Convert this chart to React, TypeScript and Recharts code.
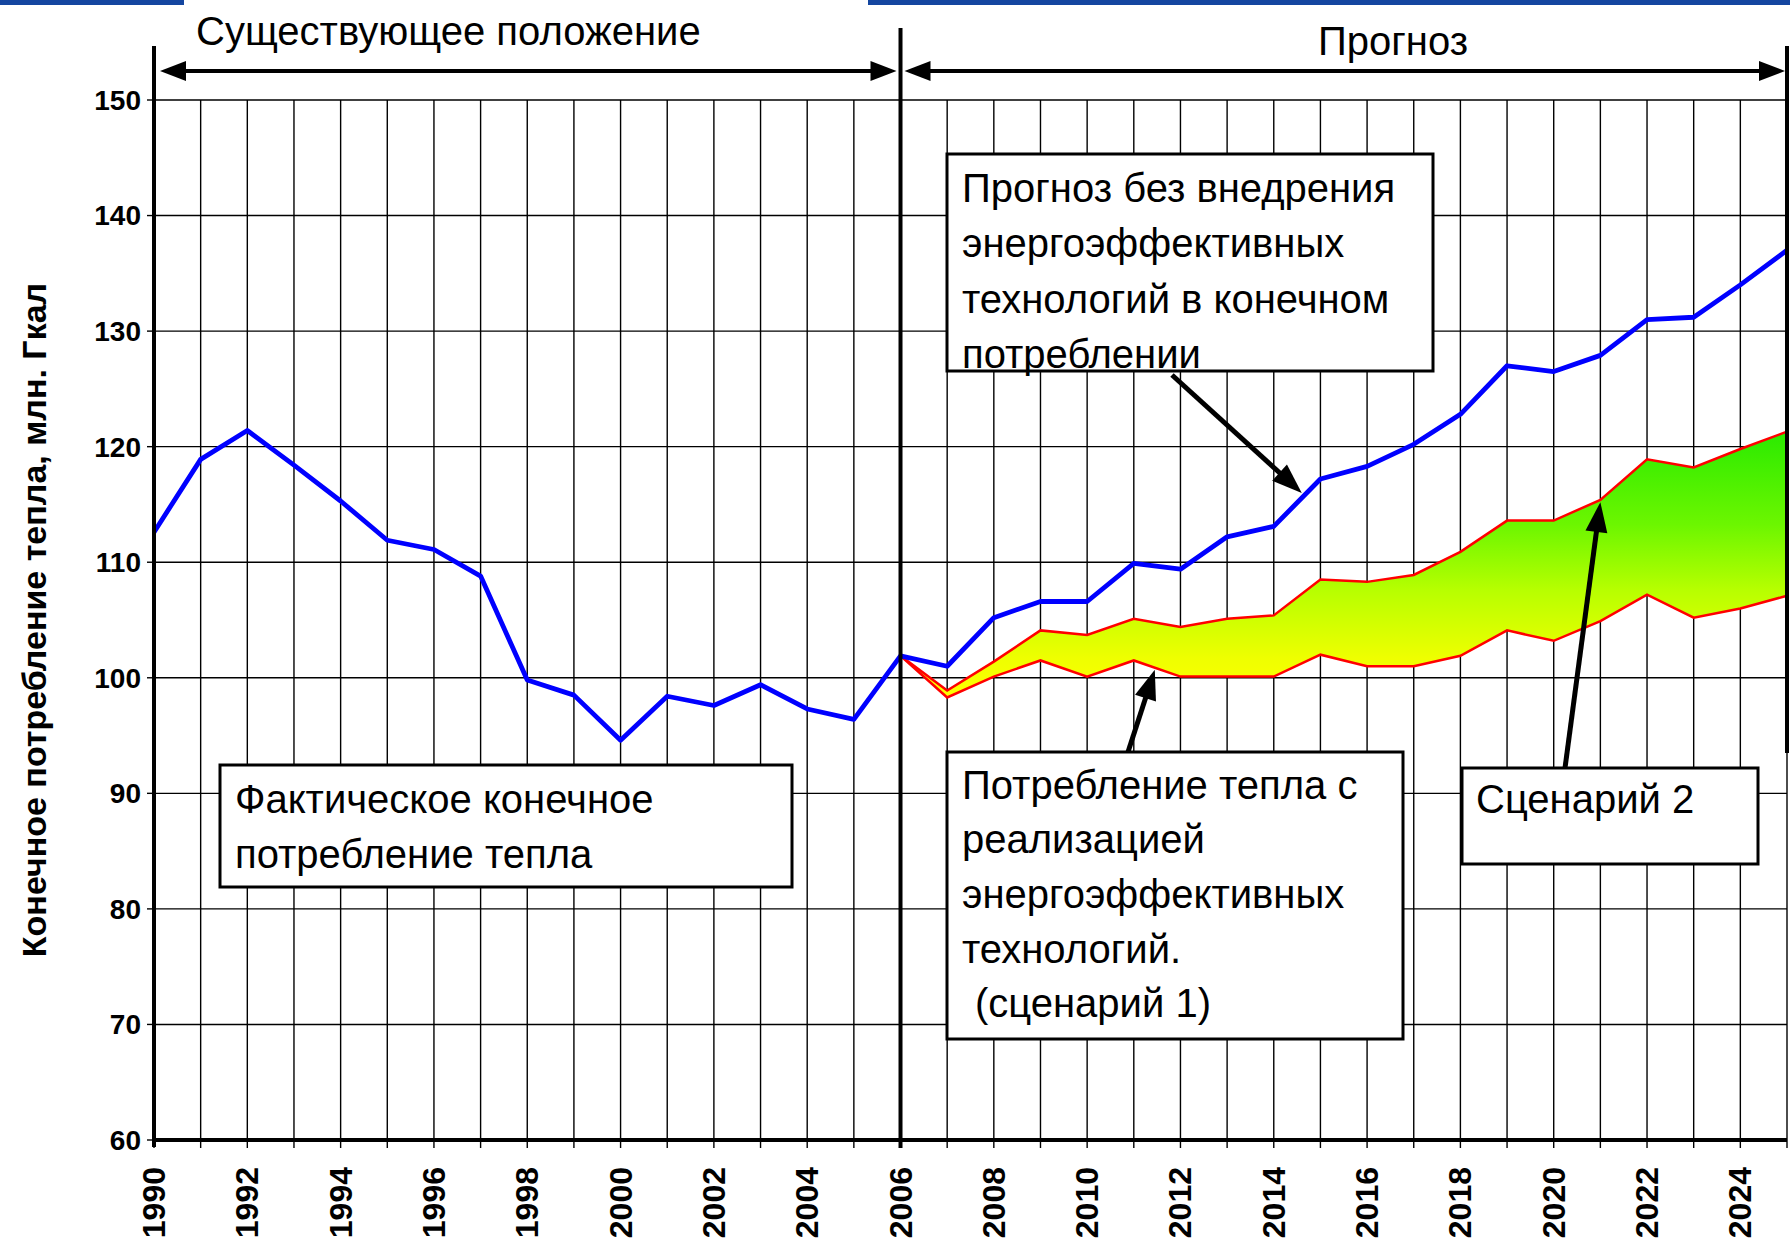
import React from 'react';
import { ComposedChart, Line, Area, XAxis, YAxis, CartesianGrid } from 'recharts';

// years on the x axis (one gridline per year, labels on even years)
const YEARS = [
  1990, 1991, 1992, 1993, 1994, 1995, 1996, 1997, 1998, 1999, 2000, 2001,
  2002, 2003, 2004, 2005, 2006, 2007, 2008, 2009, 2010, 2011, 2012, 2013,
  2014, 2015, 2016, 2017, 2018, 2019, 2020, 2021, 2022, 2023, 2024, 2025,
];

// actual consumption up to 2006, then forecast without efficiency measures
const HEAT_BASE = [
  112.6, 118.9, 121.4, 118.4, 115.3, 111.9, 111.1, 108.8, 99.8, 98.5, 94.6, 98.4,
  97.6, 99.4, 97.3, 96.4, 101.9, 101.0, 105.2, 106.6, 106.6, 109.9, 109.4, 112.2,
  113.1, 117.2, 118.3, 120.2, 122.8, 127.0, 126.5, 127.9, 131.0, 131.2, 134.0, 137.0,
];

const FORECAST_YEARS = [
  2006, 2007, 2008, 2009, 2010, 2011, 2012, 2013, 2014, 2015,
  2016, 2017, 2018, 2019, 2020, 2021, 2022, 2023, 2024, 2025,
];
// scenario 2 (upper red line)
const SCENARIO_HIGH = [
  101.9, 98.9, 101.4, 104.1, 103.7, 105.1, 104.4, 105.1, 105.4, 108.5,
  108.3, 108.9, 110.9, 113.6, 113.6, 115.4, 118.9, 118.2, 119.8, 121.3,
];
// scenario 1 (lower red line)
const SCENARIO_LOW = [
  101.9, 98.3, 100.1, 101.5, 100.1, 101.5, 100.1, 100.1, 100.1, 102.0,
  101.0, 101.0, 101.9, 104.1, 103.2, 104.9, 107.2, 105.2, 106.0, 107.1,
];

const Y_TICKS = [60, 70, 80, 90, 100, 110, 120, 130, 140, 150];

const W = 1790;
const H = 1244;
const PLOT = { left: 154, top: 100, right: 1787, bottom: 1140 };
const Y_AXIS_W = 80;
const FONT = '"Liberation Sans", Arial, Helvetica, sans-serif';

// only used to place the annotations (boxes, arrows) over the chart
const px = (year: number) => PLOT.left + ((year - 1990) / 35) * (PLOT.right - PLOT.left);
const py = (v: number) => PLOT.top + ((150 - v) / 90) * (PLOT.bottom - PLOT.top);

const rows = YEARS.map((year, i) => {
  const k = FORECAST_YEARS.indexOf(year);
  const hi = k >= 0 ? SCENARIO_HIGH[k] : null;
  const lo = k >= 0 ? SCENARIO_LOW[k] : null;
  return { year, base: HEAT_BASE[i], hi, lo, band: k >= 0 ? [lo, hi] : null };
});

const YearTick = (props: any) => {
  const { x, y, payload } = props;
  if (payload.value % 2 !== 0) return <g />;
  const ty = y + 19;
  return (
    <text
      x={x}
      y={ty}
      transform={`rotate(-90 ${x} ${ty})`}
      textAnchor="end"
      dominantBaseline="central"
      fontFamily={FONT}
      fontWeight={700}
      fontSize={32}
      fill="#000"
    >
      {payload.value}
    </text>
  );
};

const arrowHead = (x1: number, y1: number, x2: number, y2: number, len = 30, half = 11) => {
  const dx = x2 - x1;
  const dy = y2 - y1;
  const d = Math.hypot(dx, dy);
  const ux = dx / d;
  const uy = dy / d;
  const bx = x2 - ux * len;
  const by = y2 - uy * len;
  return `${x2},${y2} ${bx - uy * half},${by + ux * half} ${bx + uy * half},${by - ux * half}`;
};

const Pointer = ({ from, to }: { from: [number, number]; to: [number, number] }) => {
  const [x1, y1] = from;
  const [x2, y2] = to;
  const d = Math.hypot(x2 - x1, y2 - y1);
  const ex = x2 - ((x2 - x1) / d) * 24;
  const ey = y2 - ((y2 - y1) / d) * 24;
  return (
    <g>
      <line x1={x1} y1={y1} x2={ex} y2={ey} stroke="#000" strokeWidth={5} />
      <polygon points={arrowHead(x1, y1, x2, y2)} fill="#000" />
    </g>
  );
};

const DoubleArrow = ({ x1, x2, y }: { x1: number; x2: number; y: number }) => (
  <g>
    <line x1={x1 + 20} y1={y} x2={x2 - 20} y2={y} stroke="#000" strokeWidth={4} />
    <polygon points={arrowHead(x2, y, x1, y, 26, 10)} fill="#000" />
    <polygon points={arrowHead(x1, y, x2, y, 26, 10)} fill="#000" />
  </g>
);

const NoteBox = ({ x, y, w, h, lines, tx, baselines }: any) => (
  <g>
    <rect x={x} y={y} width={w} height={h} fill="#fff" stroke="#000" strokeWidth={3} />
    {lines.map((s: string, i: number) => (
      <text key={i} x={tx[i] ?? tx[0]} y={baselines[i]} fontFamily={FONT} fontSize={40} fill="#000">
        {s}
      </text>
    ))}
  </g>
);

export default function App() {
  const x2006 = px(2006);
  return (
    <div style={{ position: 'absolute', left: 0, top: 0, width: W, height: H, background: '#fff' }}>
      <ComposedChart
        width={W}
        height={H}
        data={rows}
        margin={{ top: PLOT.top, right: W - PLOT.right, bottom: 0, left: PLOT.left - Y_AXIS_W }}
      >
        <defs>
          <linearGradient id="bandFill" x1="0" y1="0" x2="0" y2="1">
            <stop offset="0" stopColor="#2aea00" />
            <stop offset="0.35" stopColor="#6cf600" />
            <stop offset="0.6" stopColor="#b8ff00" />
            <stop offset="0.85" stopColor="#eeff00" />
            <stop offset="1" stopColor="#ffff00" />
          </linearGradient>
        </defs>
        <CartesianGrid stroke="#000" strokeWidth={1.4} />
        <XAxis
          dataKey="year"
          type="number"
          domain={[1990, 2025]}
          ticks={YEARS}
          interval={0}
          height={H - PLOT.bottom}
          tick={<YearTick />}
          tickSize={8}
          tickMargin={0}
          axisLine={{ stroke: '#000', strokeWidth: 4 }}
          tickLine={{ stroke: '#000', strokeWidth: 1.4 }}
        />
        <YAxis
          type="number"
          domain={[60, 150]}
          ticks={Y_TICKS}
          interval={0}
          width={Y_AXIS_W}
          tickSize={7}
          tickMargin={6}
          axisLine={{ stroke: '#000', strokeWidth: 4 }}
          tickLine={{ stroke: '#000', strokeWidth: 1.4 }}
          tick={{ fill: '#000', fontSize: 28, fontWeight: 700, fontFamily: FONT }}
        />
        <Area
          dataKey="band"
          stroke="none"
          fill="url(#bandFill)"
          fillOpacity={1}
          dot={false}
          activeDot={false}
          isAnimationActive={false}
        />
        <Line dataKey="lo" stroke="#ff0000" strokeWidth={2.5} dot={false} activeDot={false} isAnimationActive={false} />
        <Line dataKey="hi" stroke="#ff0000" strokeWidth={2.5} dot={false} activeDot={false} isAnimationActive={false} />
        <Line
          dataKey="base"
          stroke="#0000ff"
          strokeWidth={4.8}
          strokeLinejoin="round"
          dot={false}
          activeDot={false}
          isAnimationActive={false}
        />
      </ComposedChart>

      <svg
        width={W}
        height={H}
        style={{ position: 'absolute', left: 0, top: 0, pointerEvents: 'none' }}
      >
        {/* slide decoration */}
        <rect x={0} y={0} width={184} height={5} fill="#1446a0" />
        <rect x={868} y={0} width={W - 868} height={5} fill="#1446a0" />

        {/* heavy frame lines */}
        <line x1={PLOT.left} y1={46} x2={PLOT.left} y2={1147} stroke="#000" strokeWidth={4} />
        <line x1={x2006} y1={28} x2={x2006} y2={1148} stroke="#000" strokeWidth={4} />
        <line x1={PLOT.right} y1={46} x2={PLOT.right} y2={753} stroke="#000" strokeWidth={4} />

        {/* period arrows */}
        <DoubleArrow x1={160} x2={x2006 - 4} y={71} />
        <DoubleArrow x1={x2006 + 4} x2={PLOT.right - 2} y={71} />
        <text x={196} y={45} fontFamily={FONT} fontSize={40} fill="#000">
          Существующее положение
        </text>
        <text x={1393} y={55} textAnchor="middle" fontFamily={FONT} fontSize={40} fill="#000">
          Прогноз
        </text>

        {/* y axis title */}
        <text
          x={34}
          y={620}
          transform="rotate(-90 34 620)"
          textAnchor="middle"
          dominantBaseline="central"
          fontFamily={FONT}
          fontWeight={700}
          fontSize={34}
          fill="#000"
        >
          Конечное потребление тепла, млн. Гкал
        </text>

        {/* notes */}
        <NoteBox
          x={947}
          y={154}
          w={486}
          h={217}
          tx={[962]}
          baselines={[202, 257, 313, 368]}
          lines={['Прогноз без внедрения', 'энергоэффективных', 'технологий в конечном', 'потреблении']}
        />
        <Pointer from={[1172, 375]} to={[px(2014.6), py(116)]} />

        <NoteBox
          x={220}
          y={765}
          w={572}
          h={122}
          tx={[235]}
          baselines={[813, 868]}
          lines={['Фактическое конечное', 'потребление тепла']}
        />

        <NoteBox
          x={947}
          y={752}
          w={456}
          h={287}
          tx={[962, 962, 962, 962, 975]}
          baselines={[799, 853, 908, 963, 1017]}
          lines={['Потребление тепла с', 'реализацией', 'энергоэффективных', 'технологий.', '(сценарий 1)']}
        />
        <Pointer from={[1128, 752]} to={[px(2011.45), py(100.7)]} />

        <NoteBox
          x={1462}
          y={768}
          w={296}
          h={96}
          tx={[1476]}
          baselines={[813]}
          lines={['Сценарий 2']}
        />
        <Pointer from={[1565, 768]} to={[px(2021), py(115.2)]} />
      </svg>
    </div>
  );
}
